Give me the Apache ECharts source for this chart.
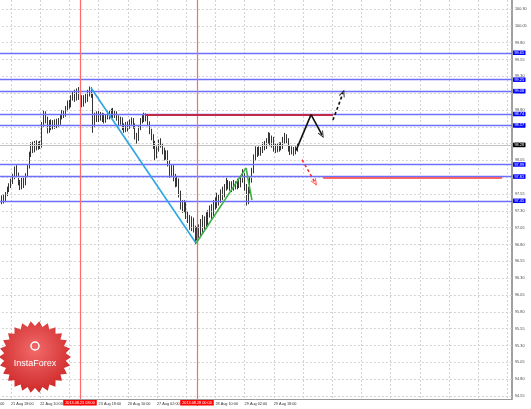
<!DOCTYPE html>
<html><head><meta charset="utf-8">
<script src="https://cdn.jsdelivr.net/npm/echarts@6/dist/echarts.min.js"></script>
<style>html,body{margin:0;padding:0;background:#fff;overflow:hidden}#c{width:531px;height:409px}</style>
</head><body><div id="c"></div>
<script>
// ---- data ----
const xTickLabels = ['21 Aug 02:00','21 Aug 18:00','22 Aug 10:00','23 Aug 02:00','23 Aug 18:00','26 Aug 10:00','27 Aug 02:00','27 Aug 18:00','28 Aug 10:00','29 Aug 02:00','29 Aug 18:00'];
const firstCandleIdx = -6; // bar index of first candle (0 = 21 Aug 18:00)
// rows: [open, close, low, high]
const candles = [
[97.48,97.42,97.39,97.52],[97.42,97.50,97.40,97.53],[97.50,97.45,97.41,97.55],[97.45,97.56,97.43,97.58],[97.56,97.62,97.52,97.66],[97.62,97.68,97.58,97.71],
[97.68,97.74,97.64,97.78],[97.74,97.80,97.70,97.85],[97.80,97.92,97.77,97.96],[97.92,97.84,97.80,97.98],[97.84,97.72,97.68,97.87],[97.72,97.66,97.61,97.76],[97.66,97.75,97.62,97.79],[97.75,97.70,97.64,97.80],[97.70,97.82,97.68,97.86],[97.82,97.95,97.80,97.98],
[97.95,98.15,97.93,98.18],[98.15,98.28,98.10,98.32],[98.28,98.20,98.16,98.33],[98.20,98.30,98.17,98.34],[98.30,98.24,98.20,98.35],[98.24,98.30,98.21,98.33],[98.30,98.26,98.22,98.34],[98.26,98.58,98.24,98.62],
[98.58,98.74,98.55,98.80],[98.74,98.66,98.60,98.78],[98.66,98.52,98.45,98.70],[98.52,98.60,98.46,98.65],[98.60,98.55,98.50,98.66],[98.55,98.62,98.51,98.65],[98.62,98.56,98.52,98.66],[98.56,98.64,98.53,98.67],[98.64,98.60,98.55,98.68],[98.60,98.70,98.58,98.74],[98.70,98.76,98.66,98.80],
[98.76,98.72,98.68,98.80],[98.72,98.82,98.70,98.86],[98.82,98.90,98.78,98.94],[98.90,98.86,98.82,98.95],[98.86,98.98,98.84,99.02],[98.98,99.04,98.94,99.08],[99.04,98.96,98.92,99.10],[98.96,99.06,98.94,99.12],[99.06,99.00,98.95,99.14],[99.00,98.92,98.86,99.04],
[98.92,98.88,98.84,99.02],[98.88,98.98,98.85,99.02],[98.98,98.94,98.90,99.04],[98.94,99.06,98.92,99.10],[99.06,99.10,99.00,99.15],[99.10,99.02,98.98,99.14],[99.02,98.58,98.46,99.04],
[98.58,98.72,98.55,98.76],[98.72,98.66,98.62,98.78],[98.66,98.74,98.62,98.80],[98.74,98.68,98.64,98.77],[98.68,98.72,98.62,98.76],[98.72,98.64,98.60,98.75],[98.64,98.70,98.61,98.74],[98.70,98.76,98.66,98.80],[98.76,98.70,98.66,98.79],[98.70,98.78,98.67,98.82],[98.78,98.72,98.68,98.83],[98.72,98.76,98.68,98.80],[98.76,98.68,98.64,98.78],[98.68,98.62,98.56,98.72],[98.62,98.66,98.58,98.70],
[98.66,98.56,98.50,98.69],[98.56,98.50,98.46,98.60],[98.50,98.58,98.47,98.62],[98.58,98.54,98.48,98.63],[98.54,98.62,98.52,98.66],[98.62,98.66,98.58,98.69],[98.66,98.58,98.52,98.68],[98.58,98.40,98.36,98.60],[98.40,98.36,98.30,98.46],[98.36,98.52,98.34,98.56],
[98.52,98.64,98.50,98.68],[98.64,98.70,98.60,98.74],[98.70,98.66,98.62,98.76],[98.66,98.72,98.63,98.75],[98.72,98.60,98.56,98.74],[98.60,98.48,98.44,98.63],[98.48,98.40,98.35,98.52],[98.40,98.30,98.22,98.44],[98.30,98.12,98.05,98.34],[98.12,98.22,98.08,98.26],
[98.22,98.32,98.18,98.36],[98.32,98.28,98.24,98.38],[98.28,98.20,98.14,98.31],[98.20,98.10,98.05,98.24],[98.10,98.16,98.06,98.20],[98.16,98.02,97.96,98.20],[98.02,97.86,97.79,98.05],[97.86,97.94,97.82,97.98],[97.94,97.80,97.74,97.98],[97.80,97.70,97.65,97.85],
[97.70,97.76,97.66,97.82],[97.76,97.56,97.50,97.78],[97.56,97.40,97.32,97.60],[97.40,97.34,97.27,97.46],[97.34,97.42,97.28,97.46],[97.42,97.26,97.18,97.44],[97.26,97.20,97.12,97.30],[97.20,97.10,97.02,97.24],[97.10,97.16,97.00,97.22],[97.16,97.04,96.98,97.20],
[97.04,96.94,96.80,97.08],[96.94,97.02,96.86,97.06],[97.02,96.98,96.90,97.10],[96.98,97.12,96.92,97.18],[97.12,97.06,96.96,97.24],[97.06,97.16,97.02,97.22],[97.16,97.10,97.04,97.28],[97.10,97.24,97.06,97.31],[97.24,97.30,97.20,97.38],[97.30,97.26,97.18,97.40],
[97.26,97.40,97.22,97.46],[97.40,97.36,97.32,97.50],[97.36,97.48,97.34,97.57],[97.48,97.44,97.38,97.54],[97.44,97.56,97.42,97.62],[97.56,97.52,97.46,97.66],[97.52,97.64,97.50,97.70],[97.64,97.70,97.60,97.80],[97.70,97.66,97.62,97.76],[97.66,97.68,97.60,97.74],
[97.68,97.64,97.58,97.74],[97.64,97.70,97.60,97.76],[97.70,97.66,97.62,97.74],[97.66,97.72,97.62,97.78],[97.72,97.68,97.64,97.76],[97.68,97.76,97.65,97.82],[97.76,97.82,97.72,97.92],[97.82,97.66,97.60,97.86],[97.66,97.44,97.38,97.70],[97.44,97.60,97.40,97.66],
[97.60,97.76,97.56,97.80],[97.76,97.88,97.72,97.94],[97.88,98.10,97.86,98.14],[98.10,98.22,98.04,98.26],[98.22,98.16,98.10,98.25],[98.16,98.22,98.12,98.26],[98.22,98.18,98.12,98.25],[98.18,98.28,98.16,98.32],[98.28,98.24,98.20,98.34],[98.24,98.34,98.22,98.38],
[98.34,98.42,98.30,98.47],[98.42,98.30,98.26,98.46],[98.30,98.38,98.24,98.42],[98.38,98.22,98.18,98.40],[98.22,98.26,98.16,98.30],[98.26,98.20,98.17,98.30],[98.20,98.28,98.18,98.32],[98.28,98.24,98.20,98.32],[98.24,98.36,98.22,98.40],[98.36,98.42,98.30,98.46],
[98.42,98.34,98.30,98.44],[98.34,98.24,98.18,98.38],[98.24,98.18,98.13,98.28],[98.18,98.22,98.14,98.26],[98.22,98.16,98.12,98.25],[98.16,98.22,98.14,98.26],[98.22,98.28,98.18,98.30]
];
const yTicks = [94.55,94.80,95.05,95.30,95.55,95.80,96.05,96.30,96.55,96.80,97.05,97.30,97.55,97.80,98.05,98.30,98.55,98.80,99.05,99.30,99.55,99.80,100.05,100.30];
const levels = [99.65,99.25,99.08,98.74,98.57,97.99,97.81,97.45];
const currentPrice = 98.28;
const vLines = [[37.8,'2013.08.23 08:00'],[101.9,'2013.08.28 00:00']];
const trendBlue = [[43.8,99.13],[101.4,96.82]];
const trendGreen = [[101.4,96.82],[128.8,97.94],[132.0,97.46]];
const resistance = [[73.4,98.73],[176.4,98.73]];
const arrowBlack = [[156.2,98.20],[164.4,98.73],[170.4,98.43]];
const arrowBlackDashed = [[176.4,98.65],[181.9,99.05]];
const arrowRedDashed = [[159.5,98.06],[166.6,97.72]];
const targetLine = [[171.0,97.80],[269.0,97.80]];

// ---- chart ----
const FONT = 'Liberation Sans';
const FS = 3.8;
const chev = 'path://M0,0 L-6,11 L-4.2,11 L0,3.2 L4.2,11 L6,11 Z';
function segs(pts, arrow, style){
  const out=[];
  for(let i=0;i<pts.length-1;i++){
    const seg=[{coord:pts[i], lineStyle:style},{coord:pts[i+1]}];
    if(arrow && i===pts.length-2){ seg[1].symbol=chev; seg[1].symbolSize=[6,7]; }
    out.push(seg);
  }
  return out;
}
function ml(pts, color, width, type, arrow, z){
  const st={color:color,width:width,type:type||'solid',opacity:1};
  return {type:'line', data:[], z:z||5, silent:true, animation:false, itemStyle:{color:color},
    markLine:{silent:true, animation:false, symbol:['none','none'], symbolSize:7,
      itemStyle:{color:color}, lineStyle:st, label:{show:false}, emphasis:{disabled:true},
      data:segs(pts, arrow, st)}};
}
const candleData = candles.map((r,k)=>[firstCandleIdx+k, r[0], r[1], r[2], r[3]]);

const chart = echarts.init(document.getElementById('c'), null, {renderer:'canvas'});
const lvlStyle = {color:'#6f6fff', width:1.3, type:'solid', opacity:1};
const series = [
  {type:'line', data:[], z:1, silent:true,
    markLine:{silent:true, animation:false, symbol:['none','none'], emphasis:{disabled:true},
      lineStyle:{color:'#d2d2d2', width:1, type:[2,2]},
      label:{show:true, position:'end', distance:3, fontFamily:FONT, fontSize:FS, color:'#444', formatter:p=>p.value.toFixed(2)},
      data: yTicks.map(v=>({yAxis:v}))}},
  {type:'line', data:[], z:2, silent:true, itemStyle:{color:'#6f6fff'},
    markLine:{silent:true, animation:false, symbol:['none','none'], emphasis:{disabled:true},
      lineStyle:lvlStyle,
      label:{show:true, position:'end', distance:1, fontFamily:FONT, fontSize:FS, color:'#fff', backgroundColor:'#0000ff', padding:[0.5,1.5,0,1.5], formatter:p=>p.value.toFixed(2)},
      data: levels.map(v=>({yAxis:v, lineStyle:lvlStyle}))}},
  {type:'line', data:[], z:2, silent:true, itemStyle:{color:'#c4c4c4'},
    markLine:{silent:true, animation:false, symbol:['none','none'], emphasis:{disabled:true},
      lineStyle:{color:'#c4c4c4', width:1, type:'solid'},
      label:{show:true, position:'end', distance:1, fontFamily:FONT, fontSize:FS, color:'#fff', backgroundColor:'#000', padding:[0.5,1.5,0,1.5], formatter:p=>p.value.toFixed(2)},
      data: [{yAxis:currentPrice, lineStyle:{color:'#c4c4c4', width:1, type:'solid'}}]}},
  {type:'line', data:[], z:3, silent:true, itemStyle:{color:'#ff6a6a'},
    markLine:{silent:true, animation:false, symbol:['none','none'], emphasis:{disabled:true},
      lineStyle:{color:'#ff6a6a', width:1.2, type:'solid'},
      label:{show:true, position:'start', distance:1, fontFamily:FONT, fontSize:FS, color:'#fff', backgroundColor:'#ff0000', padding:[1,2,0.5,2], formatter:p=>p.name},
      data: vLines.map(v=>({xAxis:v[0], name:v[1], lineStyle:{color:'#ff6a6a', width:1.2, type:'solid'}}))}},
  {type:'candlestick', data:candleData, z:4, encode:{x:0, y:[1,2,3,4]}, barWidth:1.3,
    itemStyle:{color:'#fff', color0:'#000', borderColor:'#000', borderColor0:'#000', borderWidth:0.8}},
  ml(resistance,'#c0284c',2,'solid',false,5),
  ml(targetLine,'#ff3b3b',1.6,'solid',false,5),
  ml(trendBlue,'#2ea6e3',1.6,'solid',false,6),
  ml(trendGreen,'#3cb044',1.6,'solid',false,6),
  ml(arrowBlack,'#111',1.6,'solid',true,7),
  ml(arrowBlackDashed,'#111',1.6,[3,2.5],true,7),
  ml(arrowRedDashed,'#ff3030',1.6,[3,2.5],true,7)
];

// InstaForex starburst logo
const star=[]; const cx=35, cy=357, R=36, r=31, n=26;
for(let i=0;i<2*n;i++){const a=Math.PI*i/n; const rr=i%2?r:R; star.push([cx+rr*Math.cos(a), cy+rr*Math.sin(a)]);}

chart.setOption({
  animation:false,
  backgroundColor:'#fff',
  grid:{left:-18.2, right:19, top:0, bottom:10, containLabel:false, outerBoundsMode:'none'},
  xAxis:{type:'value', min:-16, max:274.5, interval:16,
    axisLine:{show:true, onZero:false, lineStyle:{color:'#9a9a9a', width:1}},
    axisTick:{show:false},
    splitLine:{show:true, lineStyle:{color:'#d2d2d2', width:1, type:[2,2]}},
    axisLabel:{show:true, showMinLabel:true, showMaxLabel:false, hideOverlap:false, align:'left', margin:3, fontFamily:FONT, fontSize:FS, color:'#333',
      formatter:v=>{const k=(v+16)/16; return (Number.isInteger(k)&&k<xTickLabels.length)?xTickLabels[k]:'';}}},
  yAxis:{type:'value', position:'right', min:94.505, max:100.434, scale:true,
    axisLine:{show:true, onZero:false, lineStyle:{color:'#a0a0a0', width:2}},
    axisTick:{show:false}, axisLabel:{show:false}, splitLine:{show:false}},
  series:series,
  graphic:[
    {type:'polygon', z:50, shape:{points:star}, style:{fill:new echarts.graphic.RadialGradient(0.5,0.4,0.7,[{offset:0,color:'#f26a6a'},{offset:1,color:'#c81e1e'}])}},
    {type:'circle', z:51, shape:{cx:cx, cy:cy-11, r:4}, style:{fill:'none', stroke:'#fff', lineWidth:1.5}},
    {type:'text', z:51, x:cx, y:cy+7, style:{text:'InstaForex', fill:'#fff', font:'9px '+FONT, textAlign:'center', textVerticalAlign:'middle'}}
  ]
});
</script></body></html>
